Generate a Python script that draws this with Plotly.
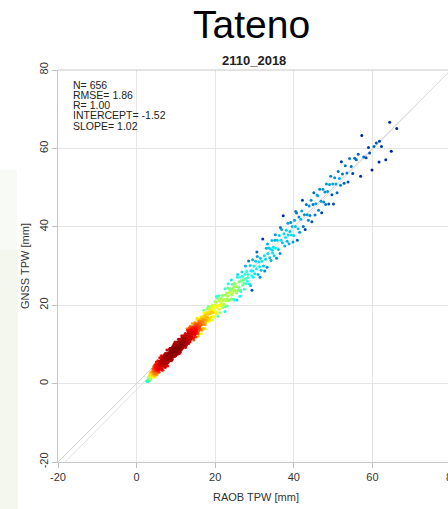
import numpy as np
import plotly.graph_objects as go

station = "Tateno"
period = "2110_2018"
x_label = "RAOB TPW [mm]"
y_label = "GNSS TPW [mm]"
stat_names = ["N", "RMSE", "R", "INTERCEPT", "SLOPE"]
stat_values = ["656", "1.86", "1.00", "-1.52", "1.02"]
fit_intercept = -1.52
fit_slope = 1.02
tick_vals = [-20, 0, 20, 40, 60, 80]

# RAOB TPW (x) values, grouped by x bins
raob_tpw = [
    # 2.5-4
    2.6, 2.8, 2.9, 3.0, 3.1, 3.2, 3.3, 3.4, 3.5, 3.6, 3.7, 3.8, 3.9, 3.3, 3.6,
    # 4-6
    4.0, 4.1, 4.1, 4.2, 4.2, 4.3, 4.3, 4.4, 4.4, 4.5,
    4.5, 4.6, 4.6, 4.7, 4.7, 4.8, 4.8, 4.9, 4.9, 5.0,
    5.0, 5.1, 5.1, 5.2, 5.2, 5.3, 5.3, 5.4, 5.4, 5.5,
    5.5, 5.6, 5.6, 5.7, 5.7, 5.8, 5.8, 5.9, 5.9, 6.0,
    4.3, 4.6, 4.9, 5.2, 5.5, 5.8, 4.4, 5.0, 5.6, 5.95,
    # 6-8
    6.0, 6.1, 6.2, 6.3, 6.4, 6.5, 6.6, 6.7, 6.8, 6.9, 7.0, 7.1, 7.2, 7.3, 7.4, 7.5, 7.6, 7.7, 7.8, 7.9,
    6.05, 6.15, 6.25, 6.35, 6.45, 6.55, 6.65, 6.75, 6.85, 6.95, 7.05, 7.15, 7.25, 7.35, 7.45, 7.55, 7.65, 7.75, 7.85, 7.95,
    6.08, 6.18, 6.28, 6.38, 6.48, 6.58, 6.68, 6.78, 6.88, 6.98, 7.08, 7.18, 7.28, 7.38, 7.48, 7.58, 7.68, 7.78, 7.88, 7.98,
    6.3, 6.7, 7.1, 7.5, 7.9, 6.5, 6.9, 7.3, 7.7, 7.0,
    # 8-10
    8.0, 8.1, 8.2, 8.3, 8.4, 8.5, 8.6, 8.7, 8.8, 8.9, 9.0, 9.1, 9.2, 9.3, 9.4, 9.5, 9.6, 9.7, 9.8, 9.9,
    8.03, 8.13, 8.23, 8.33, 8.43, 8.53, 8.63, 8.73, 8.83, 8.93, 9.03, 9.13, 9.23, 9.33, 9.43, 9.53, 9.63, 9.73, 9.83, 9.93,
    8.06, 8.16, 8.26, 8.36, 8.46, 8.56, 8.66, 8.76, 8.86, 8.96, 9.06, 9.16, 9.26, 9.36, 9.46, 9.56, 9.66, 9.76, 9.86, 9.96,
    8.09, 8.19, 8.29, 8.39, 8.49, 8.59, 8.69, 8.79, 8.89, 8.99, 9.09, 9.19, 9.29, 9.39, 9.49, 9.59, 9.69, 9.79, 9.89, 9.99,
    # 10-12
    10.0, 10.1, 10.2, 10.3, 10.4, 10.5, 10.6, 10.7, 10.8, 10.9, 11.0, 11.1, 11.2, 11.3, 11.4, 11.5, 11.6, 11.7, 11.8, 11.9,
    10.03, 10.13, 10.23, 10.33, 10.43, 10.53, 10.63, 10.73, 10.83, 10.93, 11.03, 11.13, 11.23, 11.33, 11.43, 11.53, 11.63, 11.73, 11.83, 11.93,
    10.06, 10.16, 10.26, 10.36, 10.46, 10.56, 10.66, 10.76, 10.86, 10.96, 11.06, 11.16, 11.26, 11.36, 11.46, 11.56, 11.66, 11.76, 11.86, 11.96,
    10.09, 10.19, 10.29, 10.39, 10.49, 10.59, 10.69, 10.79, 10.89, 10.99, 11.09, 11.19, 11.29, 11.39, 11.49, 11.59, 11.69, 11.79, 11.89, 11.99,
    # 12-14
    12.0, 12.1, 12.2, 12.3, 12.4, 12.5, 12.6, 12.7, 12.8, 12.9, 13.0, 13.1, 13.2, 13.3, 13.4, 13.5, 13.6, 13.7, 13.8, 13.9,
    12.05, 12.15, 12.25, 12.35, 12.45, 12.55, 12.65, 12.75, 12.85, 12.95, 13.05, 13.15, 13.25, 13.35, 13.45, 13.55, 13.65, 13.75, 13.85, 13.95,
    12.02, 12.12, 12.22, 12.32, 12.42, 12.52, 12.62, 12.72, 12.82, 12.92, 13.02, 13.12, 13.22, 13.32, 13.42, 13.52, 13.62, 13.72, 13.82, 13.92,
    12.45, 12.85, 13.25, 13.65, 13.05,
    # 14-16
    14.0, 14.1, 14.2, 14.3, 14.4, 14.5, 14.6, 14.7, 14.8, 14.9, 15.0, 15.1, 15.2, 15.3, 15.4, 15.5, 15.6, 15.7, 15.8, 15.9,
    14.05, 14.15, 14.25, 14.35, 14.45, 14.55, 14.65, 14.75, 14.85, 14.95, 15.05, 15.15, 15.25, 15.35, 15.45, 15.55, 15.65, 15.75, 15.85, 15.95,
    14.15, 14.55, 14.95, 15.35, 15.75, 14.35, 14.75, 15.15, 15.55, 15.85,
    # 16-18
    16.0, 16.2, 16.4, 16.6, 16.8, 17.0, 17.2, 17.4, 17.6, 17.8,
    16.1, 16.3, 16.5, 16.7, 16.9, 17.1, 17.3, 17.5, 17.7, 17.9,
    16.05, 16.25, 16.45, 16.65, 16.85, 17.05, 17.25, 17.45, 17.65, 17.85,
    16.5, 17.1, 17.5, 16.9, 17.7,
    # 18-20
    18.0, 18.2, 18.4, 18.6, 18.8, 19.0, 19.2, 19.4, 19.6, 19.8,
    18.1, 18.3, 18.5, 18.7, 18.9, 19.1, 19.3, 19.5, 19.7, 19.9,
    18.05, 18.25, 18.45, 18.65, 18.85, 19.05, 19.25, 19.45, 19.65, 19.85,
    # 20-22
    20.0, 20.2, 20.4, 20.6, 20.8, 21.0, 21.2, 21.4, 21.6, 21.8,
    20.1, 20.3, 20.5, 20.7, 20.9, 21.1, 21.3, 21.5, 21.7, 21.9,
    20.3, 20.7, 21.1, 21.5, 21.95,
    # 22-24
    22.0, 22.2, 22.4, 22.6, 22.8, 23.0, 23.2, 23.4, 23.6, 23.8,
    22.1, 22.3, 22.5, 22.7, 22.9, 23.1, 23.3, 23.5, 23.7, 23.9,
    22.5, 23.3,
    # 24-26
    24.0, 24.2, 24.4, 24.6, 24.8, 25.0, 25.2, 25.4, 25.6, 25.8,
    24.1, 24.3, 24.5, 24.7, 24.9, 25.1, 25.3, 25.5, 25.7, 25.9,
    24.5, 25.5, 24.1,
    # 26-28
    26.0, 26.2, 26.4, 26.6, 26.8, 27.0, 27.2, 27.4, 27.6, 27.8,
    26.1, 26.5, 26.9, 27.3, 27.7, 26.3, 27.1, 27.9,
    # 28-30
    28.0, 28.2, 28.4, 28.7, 28.9, 29.1, 29.3, 29.5, 29.7, 29.9, 28.5, 29.0, 29.6, 28.3, 29.35,
    # 30-32
    30.1, 30.3, 30.5, 30.7, 30.9, 31.1, 31.3, 31.5, 31.7, 31.9, 30.6, 31.4,
    # 32-34
    32.1, 32.3, 32.5, 32.8, 33.0, 33.2, 33.4, 33.6, 33.9, 32.6, 33.3,
    # 34-36
    34.0, 34.2, 34.4, 34.6, 34.8, 35.0, 35.2, 35.4, 35.6, 35.8, 34.5, 35.3,
    # 36-38
    36.1, 36.3, 36.5, 36.7, 36.9, 37.1, 37.3, 37.5, 37.7, 37.9, 36.6,
    # 38-40
    38.1, 38.3, 38.5, 38.8, 39.0, 39.2, 39.4, 39.6, 39.8, 38.6,
    # 40-42
    40.0, 40.2, 40.4, 40.7, 40.9, 41.1, 41.3, 41.5, 41.8, 40.5,
    # 42-44
    42.0, 42.2, 42.4, 42.7, 42.9, 43.2, 43.4, 43.7, 43.9,
    # 44-46
    44.1, 44.4, 44.6, 44.9, 45.1, 45.4, 45.6, 45.9,
    # 46-48
    46.1, 46.3, 46.6, 46.9, 47.1, 47.4, 47.6, 47.9,
    # 48-50
    48.1, 48.3, 48.6, 48.9, 49.1, 49.4, 49.7, 49.9,
    # 50-52
    50.1, 50.4, 50.7, 51.0, 51.3, 51.6, 51.9,
    # 52-54
    52.1, 52.4, 52.8, 53.1, 53.5, 53.8,
    # 54-66
    54.2, 54.6, 55.0, 55.5, 55.9,
    56.4, 57.0, 57.3, 57.8,
    58.4, 59.0, 59.3, 59.9,
    60.4, 61.0, 61.7, 61.8,
    62.3, 63.4, 64.4, 64.8, 66.2,
]

# GNSS TPW (y) values, same order as raob_tpw
gnss_tpw = [
    # 2.5-4
    0.6, 0.9, 0.5, 1.4, 1.0, 1.9, 1.2, 2.3, 1.6, 1.1, 2.6, 1.8, 2.2, 0.8, 2.9,
    # 4-6
    3.0, 1.9, 3.8, 2.5, 3.4, 1.7, 3.1, 4.4, 2.5, 3.2,
    2.1, 4.0, 3.0, 4.9, 2.6, 3.7, 2.1, 4.4, 3.4, 4.1,
    2.7, 4.9, 3.3, 4.0, 2.3, 4.6, 3.6, 5.8, 3.2, 4.4,
    3.0, 5.2, 4.0, 4.9, 2.9, 5.7, 3.8, 4.6, 6.6, 3.7,
    3.8, 1.6, 4.1, 4.8, 3.6, 4.8, 3.3, 5.5, 3.3, 5.1,
    # 6-8
    4.9, 3.9, 5.9, 4.7, 5.7, 3.8, 5.3, 6.8, 4.9, 5.9, 4.6, 6.6, 5.7, 7.7, 5.3, 6.3, 4.6, 6.9, 6.1, 7.7,
    4.3, 5.4, 3.7, 6.0, 5.0, 5.7, 4.4, 5.6, 6.8, 5.0, 6.5, 4.4, 6.2, 5.8, 7.2, 5.4, 7.0, 6.4, 5.4, 7.0,
    5.6, 4.5, 5.3, 3.5, 6.5, 4.6, 6.1, 5.2, 4.5, 7.3, 5.3, 5.9, 7.1, 5.1, 6.6, 6.1, 7.3, 5.1, 7.1, 6.1,
    7.1, 3.4, 5.7, 7.7, 4.5, 6.0, 4.8, 4.1, 8.6, 5.8,
    # 8-10
    6.0, 7.7, 7.0, 5.8, 7.8, 6.9, 8.8, 6.5, 7.9, 7.6, 6.1, 8.6, 7.7, 9.2, 7.4, 8.5, 10.2, 7.3, 9.1, 8.2,
    7.2, 5.5, 7.8, 7.1, 6.3, 8.6, 6.9, 8.0, 5.8, 8.7, 8.0, 7.2, 9.5, 7.0, 8.3, 8.0, 6.9, 9.3, 8.0, 9.9,
    6.6, 7.2, 5.9, 8.7, 6.8, 7.3, 6.1, 8.4, 8.0, 6.8, 9.0, 7.7, 7.0, 8.7, 9.9, 6.9, 8.7, 7.8, 9.6, 7.1,
    7.9, 6.3, 7.2, 6.3, 9.0, 6.1, 8.1, 7.2, 7.6, 9.1, 6.3, 8.4, 8.9, 7.7, 7.2, 9.5, 8.1, 10.6, 7.8, 8.9,
    # 10-12
    9.5, 7.9, 9.1, 10.5, 8.7, 7.8, 9.9, 9.4, 10.6, 8.9, 10.1, 8.0, 11.2, 9.8, 10.8, 12.2, 9.2, 10.7, 9.9, 11.6,
    7.7, 9.3, 8.6, 9.9, 7.5, 10.4, 9.2, 10.0, 8.7, 11.3, 9.2, 10.0, 8.6, 11.0, 10.2, 9.5, 11.7, 9.2, 11.4, 10.4,
    9.0, 10.1, 7.8, 8.9, 10.0, 8.7, 11.3, 8.2, 9.8, 10.2, 8.9, 11.0, 10.0, 8.6, 11.1, 10.7, 10.0, 12.1, 9.6, 11.3,
    8.3, 9.0, 10.6, 7.9, 9.6, 10.2, 8.7, 9.7, 7.7, 10.9, 10.4, 9.5, 10.8, 9.2, 10.1, 11.8, 9.0, 10.8, 11.6, 9.9,
    # 12-14
    11.1, 9.6, 11.9, 10.7, 12.8, 10.4, 11.4, 9.9, 12.2, 11.8, 11.1, 13.2, 10.9, 12.6, 14.2, 12.1, 10.7, 13.4, 12.2, 13.9,
    10.1, 11.7, 10.9, 12.4, 9.8, 11.7, 12.5, 11.0, 10.5, 12.6, 11.8, 11.1, 13.6, 10.8, 12.5, 13.0, 11.5, 14.3, 12.7, 11.7,
    12.2, 10.6, 11.5, 10.1, 11.4, 12.5, 9.8, 12.0, 11.3, 13.6, 10.6, 12.2, 12.8, 11.5, 12.1, 13.3, 12.8, 11.2, 14.0, 12.2,
    9.2, 14.0, 10.2, 14.6, 11.8,
    # 14-16
    11.9, 13.6, 14.5, 12.7, 13.4, 11.7, 14.5, 13.5, 12.6, 15.5, 14.3, 13.2, 14.9, 12.8, 16.3, 14.1, 15.0, 12.7, 15.9, 14.2,
    13.1, 11.6, 13.4, 14.3, 12.6, 14.1, 13.2, 15.1, 12.1, 13.8, 12.9, 15.3, 13.7, 14.7, 13.1, 16.6, 13.8, 15.4, 14.5, 15.9,
    15.3, 11.1, 13.9, 16.7, 12.1, 13.0, 15.5, 11.9, 14.7, 13.4,
    # 16-18
    15.4, 13.9, 17.0, 15.1, 16.5, 14.1, 16.2, 17.5, 15.6, 17.0,
    14.5, 16.5, 13.8, 16.2, 15.7, 18.1, 15.1, 16.8, 18.1, 16.1,
    16.0, 14.9, 15.8, 13.6, 17.2, 15.2, 16.9, 15.0, 16.6, 19.1,
    12.7, 18.7, 14.0, 16.0, 16.3,
    # 18-20
    16.3, 18.2, 15.9, 17.8, 19.7, 17.0, 18.8, 18.1, 20.0, 17.0,
    17.7, 16.6, 19.1, 16.5, 17.9, 19.3, 16.2, 19.0, 18.2, 20.9,
    16.9, 19.6, 16.5, 18.5, 16.1, 18.3, 20.0, 17.1, 19.4, 18.4,
    # 20-22
    19.9, 17.8, 19.7, 21.7, 19.0, 20.0, 18.1, 21.7, 20.2, 21.5,
    18.4, 20.8, 17.9, 19.9, 22.4, 19.0, 20.9, 20.2, 22.5, 19.4,
    22.2, 17.2, 21.2, 19.9, 21.1,
    # 22-24
    20.1, 22.6, 21.5, 19.6, 22.6, 21.6, 24.4, 21.2, 23.2, 23.9,
    21.4, 20.2, 24.2, 21.1, 23.1, 19.8, 22.3, 24.2, 21.3, 23.2,
    18.4, 25.5,
    # 24-26
    24.2, 22.6, 23.7, 21.5, 25.6, 23.8, 24.9, 23.1, 27.1, 23.9,
    21.6, 25.3, 23.2, 24.6, 21.3, 25.5, 23.5, 24.7, 27.8, 23.8,
    24.0, 21.3, 26.4,
    # 26-28
    24.6, 27.1, 23.8, 26.2, 28.5, 25.1, 26.4, 24.1, 27.9, 26.8,
    26.0, 23.5, 27.4, 25.6, 30.0, 22.3, 26.5, 25.5,
    # 28-30
    28.6, 26.1, 27.8, 25.4, 30.1, 28.7, 27.5, 31.6, 27.1, 30.0, 31.3, 25.0, 28.7, 27.0, 23.8,
    # 30-32
    28.0, 31.2, 29.3, 32.4, 27.8, 31.0, 29.8, 32.0, 28.9, 31.2, 33.6, 27.1,
    # 32-34
    36.9, 30.0, 32.6, 31.7, 34.5, 29.7, 33.2, 34.6, 32.1, 28.7, 35.6,
    # 34-36
    34.4, 31.4, 36.5, 33.3, 34.8, 32.6, 36.6, 34.5, 32.0, 36.6, 34.0, 38.0,
    # 36-38
    34.2, 37.8, 33.2, 36.6, 39.3, 35.9, 42.8, 38.2, 35.1, 37.3, 39.8,
    # 38-40
    39.1, 36.3, 40.9, 35.7, 38.8, 41.1, 37.9, 40.1, 36.1, 37.9,
    # 40-42
    37.8, 41.7, 40.1, 43.5, 36.6, 39.5, 42.5, 38.6, 41.9, 43.9,
    # 42-44
    44.0, 46.8, 40.1, 43.1, 39.3, 45.7, 43.1, 41.7, 45.3,
    # 44-46
    42.9, 46.8, 41.3, 45.7, 48.7, 43.0, 45.9, 48.1,
    # 46-48
    47.9, 44.2, 49.6, 46.5, 43.6, 49.6, 46.3, 48.9,
    # 48-50
    45.7, 50.9, 49.0, 45.8, 50.8, 52.9, 48.2, 50.9,
    # 50-52
    45.8, 52.5, 50.9, 48.7, 54.1, 52.3, 50.6,
    # 52-54
    56.6, 53.5, 51.1, 55.6, 53.7, 51.4,
    # 54-66
    57.4, 55.4, 53.6, 57.5, 57.1,
    58.5, 52.9, 63.3, 57.8,
    57.6, 60.2, 58.8, 54.5,
    60.5, 61.4, 56.5, 61.8,
    60.5, 57.1, 66.7, 59.3, 65.1,
]

n = min(len(raob_tpw), len(gnss_tpw))
x = np.array(raob_tpw[:n])
y = np.array(gnss_tpw[:n])

# point density (neighbour count) for colouring
d2 = (x[:, None] - x[None, :]) ** 2 + (y[:, None] - y[None, :]) ** 2
count = (d2 < 2.5 ** 2).sum(axis=1)
dens = (count / count.max()) ** 0.45
order = np.argsort(dens, kind="stable")

FONT = "Liberation Sans, Arial, sans-serif"
L, T, B = 58, 70, 47
W, H = 448, 509
plot_w = W - L
plot_h = H - T - B
x_max = -20 + plot_w / 3.93

def px(xp):
    return (xp - L) / plot_w

def py(yp):
    return (H - B - yp) / plot_h

fig = go.Figure()

line_x = [-20, 80]
fig.add_trace(go.Scatter(x=line_x, y=line_x, mode="lines",
                         line=dict(color="#d0d0d0", width=1), hoverinfo="skip", showlegend=False))
fig.add_trace(go.Scatter(x=line_x, y=[fit_intercept + fit_slope * v for v in line_x], mode="lines",
                         line=dict(color="#e2e2e2", width=1), hoverinfo="skip", showlegend=False))

fig.add_trace(go.Scatter(
    x=x[order], y=y[order], mode="markers",
    marker=dict(size=3.0, color=dens[order], colorscale="Jet", cmin=0, cmax=1,
                line=dict(width=0)),
    showlegend=False,
))

annotations = [
    dict(text=station, x=px(251), y=py(24), xref="paper", yref="paper", showarrow=False,
         font=dict(family=FONT, size=39, color="#000000"), xanchor="center", yanchor="middle"),
    dict(text="<b>" + period + "</b>", x=px(254), y=py(60), xref="paper", yref="paper", showarrow=False,
         font=dict(family=FONT, size=13, color="#222222"), xanchor="center", yanchor="middle"),
    dict(text=x_label, x=px(255.5), y=py(497), xref="paper", yref="paper", showarrow=False,
         font=dict(family=FONT, size=11, color="#333333"), xanchor="center", yanchor="middle"),
    dict(text=y_label, x=px(25), y=py(266), xref="paper", yref="paper", showarrow=False, textangle=-90,
         font=dict(family=FONT, size=11, color="#333333"), xanchor="center", yanchor="middle"),
    dict(text="80", x=px(452), y=py(477), xref="paper", yref="paper", showarrow=False,
         font=dict(family=FONT, size=11, color="#333333"), xanchor="center", yanchor="middle"),
]
for i, (nm, val) in enumerate(zip(stat_names, stat_values)):
    annotations.append(dict(text=f"{nm}= {val}", x=px(72), y=py(84.5 + i * 10.25), xref="paper", yref="paper",
                            showarrow=False, xanchor="left", yanchor="middle", borderpad=0,
                            font=dict(family=FONT, size=10.5, color="#222222")))

axis_common = dict(
    showgrid=True, gridcolor="#e6e6e6", gridwidth=1, zeroline=False,
    showline=True, linecolor="#c8c8c8", linewidth=1,
    ticks="outside", ticklen=5, tickcolor="#c0c0c0", tickwidth=1,
    tickfont=dict(family=FONT, size=11, color="#333333"),
    tickmode="array", tickvals=tick_vals, ticktext=[str(v) for v in tick_vals],
)

fig.update_layout(
    width=W, height=H,
    margin=dict(l=L, r=0, t=T, b=B),
    paper_bgcolor="white", plot_bgcolor="white",
    xaxis=dict(range=[-20, x_max], **axis_common),
    yaxis=dict(range=[-20.001, 80.001], tickangle=-90, **axis_common),
    annotations=annotations,
    shapes=[
        dict(type="rect", xref="paper", yref="paper", x0=px(0), x1=px(18), y0=py(509), y1=py(250),
             fillcolor="#f3f7ee", line=dict(width=0), layer="below"),
        dict(type="rect", xref="paper", yref="paper", x0=px(0), x1=px(17), y0=py(250), y1=py(170),
             fillcolor="#f8faf5", line=dict(width=0), layer="below"),
        dict(type="line", xref="paper", yref="paper", x0=0, x1=1.05, y0=1, y1=1,
             line=dict(color="#c8c8c8", width=1)),
    ],
)

fig.write_html("out.html")
